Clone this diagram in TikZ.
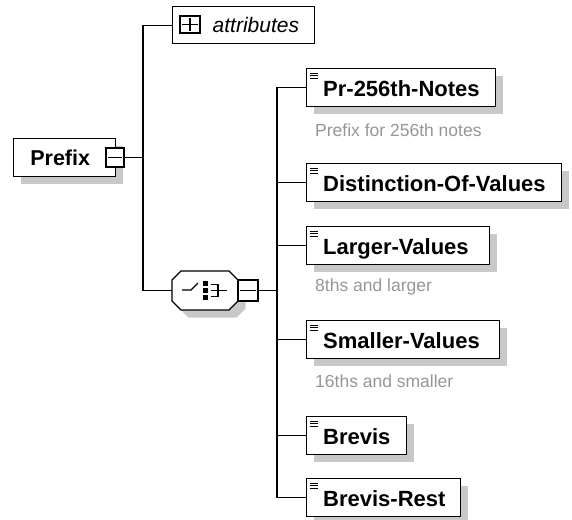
\documentclass[tikz,border=0pt]{standalone}
\usepackage{fontspec}
\setmainfont{Liberation Sans}
\usetikzlibrary{shadows}
\definecolor{shadowgrey}{RGB}{200,200,200}
\definecolor{descgrey}{RGB}{150,150,150}
\tikzset{
  conn/.style={line width=1.3pt},
  boxshadow/.style={drop shadow={shadow xshift=7.5pt, shadow yshift=-7.5pt, fill=shadowgrey, opacity=1}},
  elembox/.style={draw, line width=1.4pt, fill=white, minimum height=38, anchor=north west,
    inner sep=0pt, text height=17pt, text depth=0pt, align=left,
    font=\fontsize{22}{22}\selectfont\bfseries, boxshadow},
  smallbox/.style={draw, line width=1.2pt, fill=white, inner sep=0pt},
  desc/.style={anchor=base west, inner sep=0pt, text=descgrey, font=\fontsize{17.5}{17.5}\selectfont},
  iconline/.style={line width=0.9pt},
}
\newcommand\elemnode[5]{%
  \node[elembox, text width=#4pt] (#1) at (#2,#3) {\hspace*{17pt}#5};
  \foreach \dy in {5,7.5,10} \draw[iconline] ([shift={(4,\dy)}]#1.north west) -- ++(8,0);
}
\begin{document}
\begin{tikzpicture}[x=1pt,y=-1pt]
\useasboundingbox (0,0) rectangle (572,519);

% Prefix root
\node[draw, line width=1.4pt, fill=white, minimum width=102, minimum height=38, anchor=north west,
  inner sep=0pt, text height=16pt, text depth=0pt, font=\fontsize{21.5}{21.5}\selectfont\bfseries, boxshadow]
  (prefix) at (13,138) {Prefix\hspace*{9pt}};
\node[smallbox, minimum width=18, minimum height=19] (pmin) at (115,157.5) {};
\draw[line width=1.2pt] ([xshift=3pt]pmin.west) -- ([xshift=-3pt]pmin.east);

% attributes
\node[draw, line width=1.4pt, fill=white, text width=142pt, align=left, minimum height=37, anchor=north west,
  inner sep=0pt, text height=15pt, text depth=0pt, font=\fontsize{21}{21}\selectfont\itshape]
  (att) at (172,6) {\hspace*{40pt}attributes};
\node[smallbox, minimum width=20, minimum height=17] (attplus) at (190,24.5) {};
\draw[line width=1.2pt] ([xshift=3pt]attplus.west) -- ([xshift=-3pt]attplus.east);
\draw[line width=1.2pt] ([yshift=-3pt]attplus.north) -- ([yshift=3pt]attplus.south);

% choice compositor
\filldraw[fill=white, line width=1.3pt, boxshadow]
  (181,271) -- (229,271) -- (238,280) -- (238,301) -- (229,310) -- (181,310) -- (172,301) -- (172,280) -- cycle;
\node[minimum width=66, minimum height=39, inner sep=0pt] (choice) at (205,290.5) {};
\draw[line width=1.3pt] (182,290) -- (191,290) -- (198,283);
\fill (202.5,280.5) rectangle (207.5,285.5);
\fill (202.5,287.5) rectangle (207.5,292.5);
\fill (202.5,294.5) rectangle (207.5,299.5);
\draw[line width=1.3pt] (211,284.5) -- (218,284.5) -- (218,296.5) -- (211,296.5);
\draw[line width=1.3pt] (211,290.5) -- (227,290.5);
\node[smallbox, minimum width=20, minimum height=21] (cmin) at (248,290.5) {};
\draw[line width=1.2pt] ([xshift=2.5pt]cmin.west) -- ([xshift=-2.5pt]cmin.east);

% children
\elemnode{pr}{305.5}{68}{189}{Pr-256th-Notes}
\elemnode{dist}{305.5}{163}{255}{Distinction-Of-Values}
\elemnode{larger}{305.5}{226}{183}{Larger-Values}
\elemnode{smaller}{305.5}{320}{193}{Smaller-Values}
\elemnode{brevis}{305.5}{416}{100}{Brevis}
\elemnode{brest}{305.5}{478}{154}{Brevis-Rest}

\node[desc] (d1) at (315,136) {Prefix for 256th notes};
\node[desc] (d2) at (315,291) {8ths and larger};
\node[desc] (d3) at (315,387) {16ths and smaller};

% connectors
\coordinate (j1) at (143,157.5);
\coordinate (j2) at (277,290.5);
\draw[conn] (pmin.east) -- (j1);
\draw[conn] (att.west) -| (j1);
\draw[conn] (choice.west) -| (j1);
\draw[conn] (cmin.east) -- (j2);
\foreach \c in {pr,dist,larger,smaller,brevis,brest}
  \draw[conn] (\c.west) -| (j2);
\end{tikzpicture}
\end{document}
